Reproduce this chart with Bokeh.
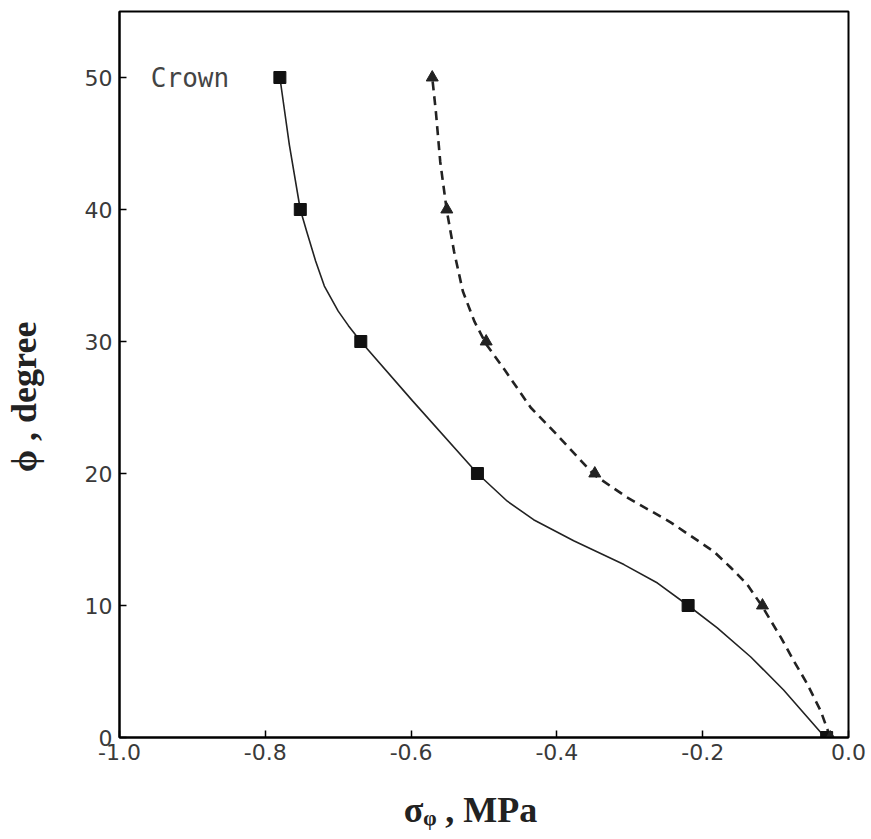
from bokeh.plotting import figure
from bokeh.models import Label, FixedTicker, Range1d
from bokeh.embed import file_html
from bokeh.resources import INLINE

# ---- data ----
angle_pts = [0, 10, 20, 30, 40, 50]                      # phi, degree
sigma_solid_pts = [-0.030, -0.220, -0.509, -0.669, -0.752, -0.780]   # MPa (squares)
sigma_dashed_pts = [-0.025, -0.118, -0.348, -0.497, -0.551, -0.571]  # MPa (triangles)

# traced course of the smooth curves
solid_curve_angle = [0.0, 3.6, 6.1, 8.3, 10.0, 11.7, 13.1, 14.9, 16.5, 17.9, 20.0,
                     25.5, 30.0, 31.2, 32.3, 34.2, 36.1, 38.3, 40.0, 44.9, 50.0]
solid_curve_sigma = [-0.032, -0.089, -0.134, -0.180, -0.220, -0.262, -0.308, -0.377,
                     -0.432, -0.468, -0.509, -0.598, -0.669, -0.686, -0.700, -0.719,
                     -0.731, -0.743, -0.752, -0.767, -0.780]
dashed_curve_angle = [0.0, 2.0, 4.1, 5.8, 7.6, 9.9, 11.6, 12.9, 14.1, 16.3, 18.2, 19.9,
                      23.0, 25.0, 27.8, 29.8, 31.5, 33.8, 36.8, 39.9, 43.6, 47.4, 50.0]
dashed_curve_sigma = [-0.025, -0.038, -0.057, -0.075, -0.093, -0.118, -0.139, -0.162,
                      -0.185, -0.244, -0.304, -0.349, -0.401, -0.436, -0.471, -0.497,
                      -0.513, -0.529, -0.541, -0.551, -0.560, -0.566, -0.571]

x_ticks = [-1.0, -0.8, -0.6, -0.4, -0.2, 0.0]
x_tick_labels = ["-1.0", "-0.8", "-0.6", "-0.4", "-0.2", "0.0"]
y_ticks = [0, 10, 20, 30, 40, 50]
y_tick_labels = ["0", "10", "20", "30", "40", "50"]

p = figure(width=869, height=837, frame_width=729, frame_height=726,
           min_border_left=119, min_border_right=21, min_border_top=11, min_border_bottom=100,
           x_range=Range1d(-1.0, 0.0), y_range=Range1d(0, 55),
           output_backend="svg", toolbar_location=None, title=None)

p.background_fill_color = "white"
p.border_fill_color = "white"
p.outline_line_color = "black"
p.outline_line_width = 2
p.grid.visible = False

for ax, ticks, labels in ((p.xaxis[0], x_ticks, x_tick_labels), (p.yaxis[0], y_ticks, y_tick_labels)):
    ax.ticker = FixedTicker(ticks=ticks)
    ax.major_label_overrides = {t: l for t, l in zip(ticks, labels)}
    ax.axis_line_color = "black"
    ax.axis_line_width = 2
    ax.major_tick_in = 7
    ax.major_tick_out = 0
    ax.major_tick_line_width = 1.5
    ax.major_tick_line_color = "black"
    ax.minor_tick_line_color = None
    ax.major_label_text_font = "DejaVu Sans"
    ax.major_label_text_font_size = "22px"
    ax.major_label_text_color = "#3a3a3a"
    ax.axis_label_text_font = "Liberation Serif"
    ax.axis_label_text_font_size = "36px"
    ax.axis_label_text_font_style = "bold"
    ax.axis_label_text_color = "#222222"

p.xaxis.major_label_standoff = 6
p.yaxis.major_label_standoff = 7

p.xaxis.axis_label = "σᵩ , MPa\u00a0\u00a0\u00a0"
p.xaxis.axis_label_standoff = 27
p.yaxis.axis_label = "ϕ , degree\u00a0\u00a0\u00a0\u00a0\u00a0"
p.yaxis.axis_label_standoff = 38

# curves
p.line(solid_curve_sigma, solid_curve_angle, line_color="#222222", line_width=1.6)
p.line(dashed_curve_sigma, dashed_curve_angle, line_color="#222222", line_width=2.6,
       line_dash="9 6")

# markers
p.scatter(sigma_solid_pts, angle_pts, marker="square", size=12, fill_color="#111111",
          line_color="#111111")
p.scatter(sigma_dashed_pts, angle_pts, marker="triangle", size=12, fill_color="#222222",
          line_color="#222222")

# in-plot text
p.add_layout(Label(x=-0.957, y=50, text="Crown", text_font="DejaVu Sans Mono",
                   text_font_size="26px", text_color="#444444", text_baseline="middle"))

open("out.html", "w").write(file_html(p, INLINE))
